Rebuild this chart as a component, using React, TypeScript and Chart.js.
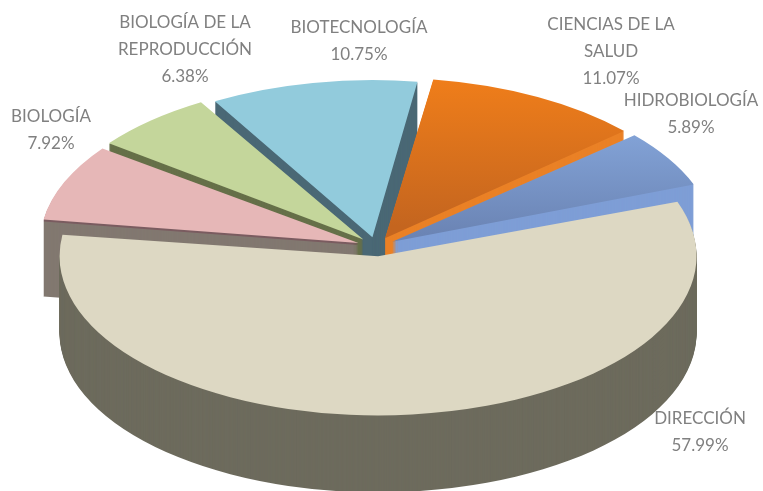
import React, { useEffect, useRef } from "react";
import { Chart, registerables } from "chart.js";

Chart.register(...registerables);

const categories = [
  "DIRECCIÓN",
  "BIOLOGÍA",
  "BIOLOGÍA DE LA\nREPRODUCCIÓN",
  "BIOTECNOLOGÍA",
  "CIENCIAS DE LA\nSALUD",
  "HIDROBIOLOGÍA",
];
const shares = [57.99, 7.92, 6.38, 10.75, 11.07, 5.89];
const topColors = ["#ddd8c3", "#e6b7b7", "#c4d69b", "#92cbdc", "#ec7c1e", "#7f9fd2"];
const sideColors = ["#6d6b5d", "#827870", "#667049", "#4a6875", "#ea8126", "#7e9ed6"];
const rimColors = [null, "#7a5c60", null, null, null, null];
const gradientStops: (null | [number, string, number, string])[] = [
  null,
  null,
  null,
  null,
  [85, "#f07e1a", 235, "#c4651f"],
  [140, "#82a2d6", 240, "#6b84b4"],
];
const paintOrder = [3, 4, 2, 1, 5, 0];
const radiusExtras = [0, 9, 8, 8, 15, 11];
const labelAnchors = [
  [700, 419],
  [51, 117],
  [185, 23],
  [359, 28],
  [611, 25],
  [691, 101],
];

const CENTER_X = 376;
const CENTER_Y = 246.7;
const SQUASH = 0.5;
const DEPTH = 77;
const LINE_HEIGHT = 26.6;

const pie3d = {
  id: "pie3d",
  beforeDatasetsDraw(chart: any) {
    const ctx = chart.ctx as CanvasRenderingContext2D;
    const arcs = chart.getDatasetMeta(0).data;
    const paint = (arc: any, fill: any, shift: number, extra: number) => {
      const saved = arc.options;
      const savedRadius = arc.outerRadius;
      arc.options = { ...saved, backgroundColor: fill, borderWidth: 0 };
      arc.outerRadius = savedRadius + extra;
      ctx.save();
      ctx.translate(CENTER_X, CENTER_Y + shift);
      ctx.scale(1, SQUASH);
      ctx.translate(-arc.x, -arc.y);
      arc.draw(ctx);
      ctx.restore();
      arc.options = saved;
      arc.outerRadius = savedRadius;
    };
    for (const i of paintOrder) {
      const arc = arcs[i];
      const extra = radiusExtras[i];
      for (let s = DEPTH; s >= 1; s--) {
        paint(arc, s <= 2 && rimColors[i] ? rimColors[i] : sideColors[i], s, extra);
      }
      let fill: any = topColors[i];
      const stops = gradientStops[i];
      if (stops) {
        const toUser = (y: number) => (y - CENTER_Y) / SQUASH + arc.y;
        const g = ctx.createLinearGradient(0, toUser(stops[0]), 0, toUser(stops[2]));
        g.addColorStop(0, stops[1]);
        g.addColorStop(1, stops[3]);
        fill = g;
      }
      paint(arc, fill, 0, extra);
    }
    return false;
  },
  afterDraw(chart: any) {
    const ctx = chart.ctx as CanvasRenderingContext2D;
    ctx.save();
    ctx.font = '17px Lato';
    ctx.fillStyle = "#808080";
    ctx.textAlign = "center";
    ctx.textBaseline = "middle";
    categories.forEach((name, i) => {
      const lines = [...name.split("\n"), shares[i].toFixed(2) + "%"];
      lines.forEach((line, k) => {
        ctx.fillText(line, labelAnchors[i][0], labelAnchors[i][1] + k * LINE_HEIGHT);
      });
    });
    ctx.restore();
  },
};

export default function App() {
  const ref = useRef<HTMLCanvasElement>(null);
  useEffect(() => {
    document.body.style.margin = "0";
    const chart = new Chart(ref.current as HTMLCanvasElement, {
      type: "pie",
      data: {
        labels: categories,
        datasets: [{ data: shares, backgroundColor: topColors, borderWidth: 0, offset: 76 }],
      },
      options: {
        responsive: false,
        animation: false,
        rotation: 69.5,
        radius: 299.5,
        plugins: { legend: { display: false }, tooltip: { enabled: false } },
      },
      plugins: [pie3d],
    } as any);
    return () => chart.destroy();
  }, []);
  return <canvas ref={ref} width={763} height={491} style={{ display: "block" }} />;
}
